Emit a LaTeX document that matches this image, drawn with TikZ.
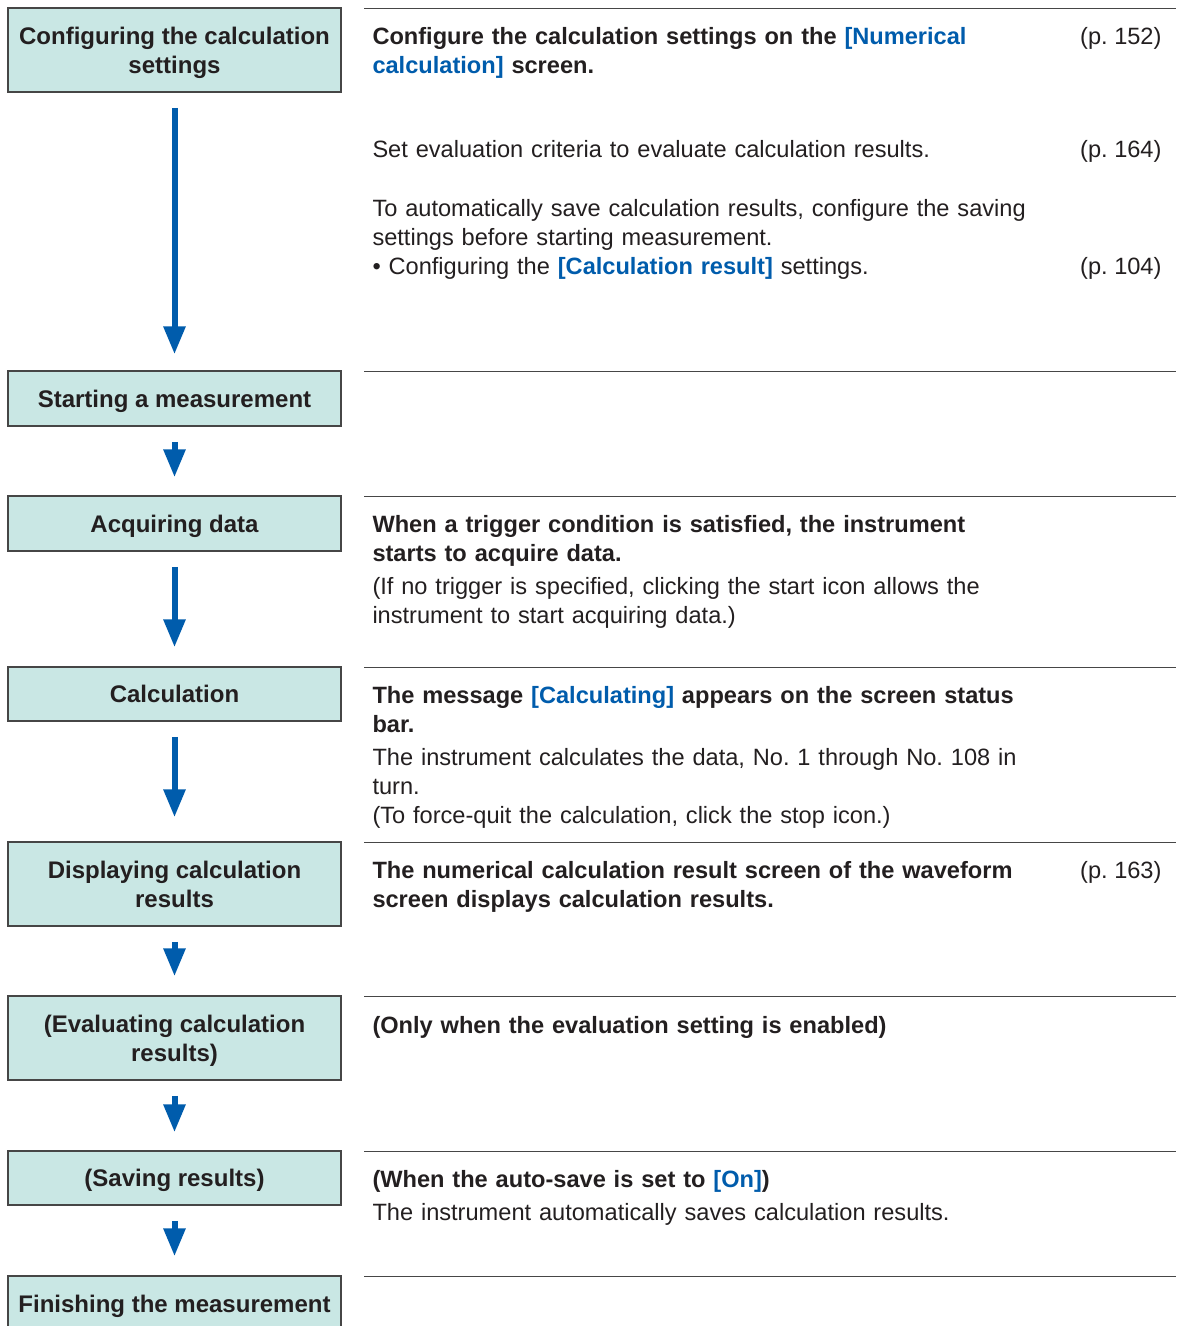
\documentclass[tikz,border=0pt]{standalone}
\usepackage{fontspec}
\setmainfont{Liberation Sans}
\usepackage{tikz}
\usetikzlibrary{arrows.meta,positioning}
\definecolor{boxfill}{RGB}{201,231,228}
\definecolor{boxline}{RGB}{70,70,70}
\definecolor{hiokiblue}{RGB}{0,92,172}
\definecolor{ink}{RGB}{35,31,32}
\newcommand{\btn}[1]{\textcolor{hiokiblue}{#1}}
\frenchspacing

\begin{document}
\begin{tikzpicture}[x=1pt, y=-1pt, line width=1pt,
  font=\fontsize{23.6}{29}\selectfont, text=ink,
  stepbox/.style={draw=boxline, fill=boxfill, line width=1.5pt, minimum width=333pt, inner sep=0pt, align=center,
    text height=17pt, text depth=0pt, font=\fontsize{24}{29}\selectfont\bfseries},
  duerighe/.style={minimum height=84pt, text height=46pt},
  note/.style={anchor=base west, inner sep=0pt, text width=760pt, align=left},
  pagref/.style={anchor=base east, inner sep=0pt},
  freccia/.style={draw=hiokiblue, line width=6pt, -{Triangle[length=28pt, width=21pt]}, shorten <=15pt}]
\clip (0,0) rectangle (1176,1326);
\node[stepbox, duerighe] (config) at (174.5,50)   {Configuring the calculation\\settings};
\node[stepbox, minimum height=55pt] (start)  at (174.5,398.5) {Starting a measurement};
\node[stepbox, minimum height=55pt] (acq)    at (174.5,523.5) {Acquiring data};
\node[stepbox, minimum height=54pt] (calc)   at (174.5,694)   {Calculation};
\node[stepbox, duerighe] (disp)   at (174.5,884)   {Displaying calculation\\results};
\node[stepbox, duerighe] (eval)   at (174.5,1038)  {(Evaluating calculation\\results)};
\node[stepbox, minimum height=54pt] (save)   at (174.5,1178)  {(Saving results)};
\node[stepbox, minimum height=55pt] (finish) at (174.5,1303.5) {Finishing the measurement};
\foreach \a/\b/\g in {config/start/16, start/acq/18, acq/calc/19, calc/disp/24, disp/eval/19, eval/save/18, save/finish/19}
  \draw[freccia, shorten >=\g pt] (\a.south) -- (\b.north);
% righe di separazione della colonna di destra
\foreach \y in {8,371,496,667,842,996,1151,1276}
  \draw[boxline] (364,\y) -- (1176,\y);
\node[note] (cfgA) at (372,44) {\bfseries Configure the calculation settings on the \btn{[Numerical\\calculation]} screen.};
\node[pagref] (pA) at (1162,44) {(p. 152)};
\node[note] (cfgB) at (372,157) {Set evaluation criteria to evaluate calculation results.};
\node[pagref] (pB) at (1162,157) {(p. 164)};
\node[note] (cfgC) at (372,216) {To automatically save calculation results, configure the saving\\settings before starting measurement.\\\textbullet{} Configuring the \btn{\textbf{[Calculation result]}} settings.};
\node[pagref] (pC) at (1162,274) {(p. 104)};
\node[note] (acqT) at (372,532) {\textbf{When a trigger condition is satisfied, the instrument}\\\textbf{starts to acquire data.}\\[4pt](If no trigger is specified, clicking the start icon allows the\\instrument to start acquiring data.)};
\node[note] (calcT) at (372,703) {\textbf{The message \btn{[Calculating]} appears on the screen status}\\\textbf{bar.}\\[4pt]The instrument calculates the data, No. 1 through No. 108 in\\turn.\\(To force-quit the calculation, click the stop icon.)};
\node[note] (dispT) at (372,878) {\bfseries The numerical calculation result screen of the waveform\\screen displays calculation results.};
\node[pagref] (pD) at (1162,878) {(p. 163)};
\node[note] (evalT) at (372,1033) {\bfseries (Only when the evaluation setting is enabled)};
\node[note] (saveT) at (372,1187) {\textbf{(When the auto-save is set to \btn{[On]})}\\[4pt]The instrument automatically saves calculation results.};
\end{tikzpicture}
\end{document}
